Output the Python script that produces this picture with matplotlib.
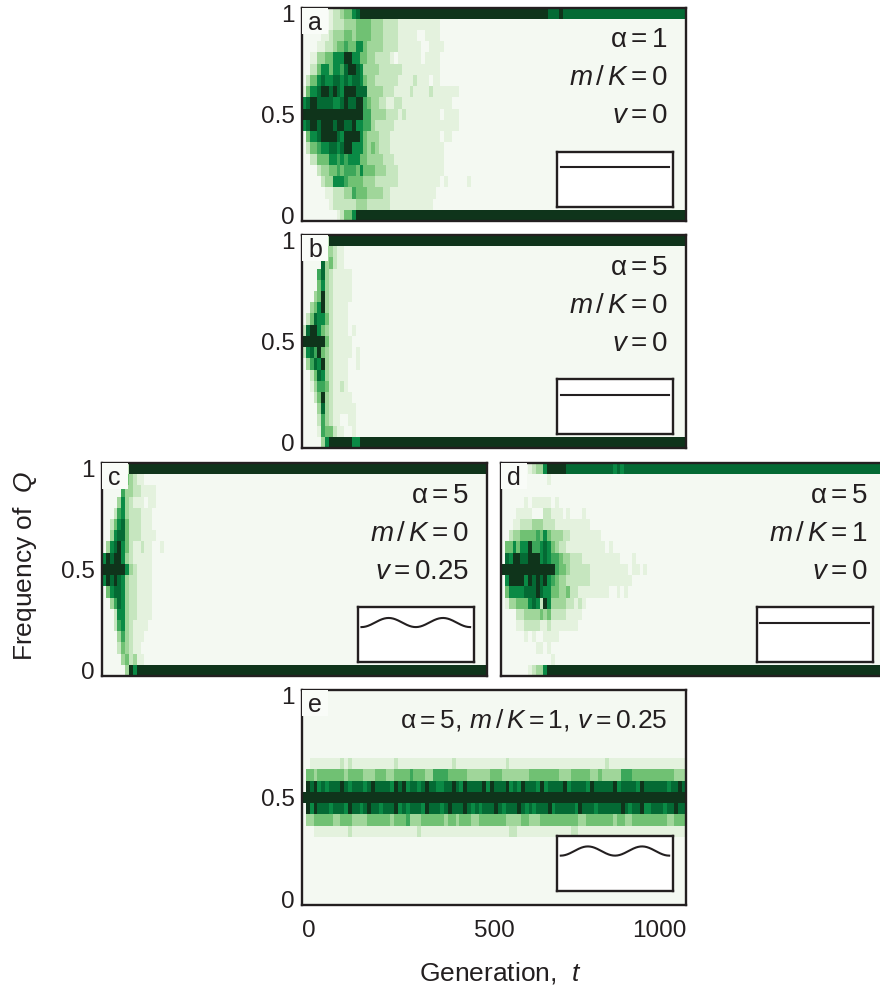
"""
Frequency of Q over generations: five simulation settings (a-e).
Each panel is a 2D histogram of runs (time bin x frequency bin),
drawn with discrete green shading levels.
"""

import numpy as np
import matplotlib
matplotlib.use('Agg')
import matplotlib.pyplot as plt
from matplotlib.colors import ListedColormap
from matplotlib.patches import Rectangle

plt.rcParams['font.family'] = ['Liberation Sans', 'DejaVu Sans']
plt.rcParams['mathtext.fontset'] = 'custom'
plt.rcParams['mathtext.rm'] = 'Liberation Sans'
plt.rcParams['mathtext.it'] = 'Liberation Sans:italic'

# ---------------- data ----------------
# shading levels: 0 = no runs ... 8 = most runs
level_colors = ['#f4f9f2', '#e4f2de', '#c6e6bf', '#a0d69a', '#70c173',
                '#3ca75a', '#0a8a45', '#046a34', '#0f341b']

gen_bin = 10          # generations per column
n_cols = 100          # 0 .. 1000 generations
n_freq = 19           # Q = 0, 1/18, ..., 1

# inner rows listed from Q = 17/18 (top) down to Q = 1/18; one digit per column
a_rows = [
    "000000012223334444333222211111111111",
    "000001123334434444333222211111001111",
    "0000112234454466433332222111111001111",
    "001133446668866443322221011111101111",
    "002246646657887633332222221111111111",
    "024467667767677643322222211112111011",
    "14667887876888777333322211112111121111111",
    "678877776678778854332211221111111111111",
    "88888888888888885533332221211111111101111",
    "67887888788778665532222211111111111111111",
    "046678888768888643332221111111111111011",
    "0244566776788666434322211111111111111",
    "0022444665656664433332221111111111111",
    "0000233445455546444333222111111111111",
    "000002336665444433322222211111111111010000010",
    "00000011222335444333322111111111111",
    "0000000122222233322222211111111111",
]
a_top = [(0, 7), (1, 1), (2, 2), (3, 1), (4, 2), (6, 1), (7, 1), (8, 49),
         (7, 3), (8, 1), (7, 32)]
a_bottom = [(0, 9), (1, 1), (2, 1), (4, 2), (6, 1), (8, 86)]

b_rows = [
    "0000063321100000",
    "0000073421100000",
    "0000573211111000",
    "0000463211111000",
    "0003483211111000",
    "0034683211110000",
    "0247664211110000",
    "2788643211110100",
    "8888884211111000",
    "2675843211111010",
    "0357683211110010",
    "0024763211110000",
    "0013554211210000",
    "0002483211111000",
    "0000373211111100",
    "0000253211001100",
    "0000154421100100",
]
b_top = [(0, 5), (1, 1), (2, 1), (8, 93)]
b_bottom = [(0, 5), (3, 1), (6, 1), (8, 6), (6, 2), (8, 85)]

c_rows = [
    "0000024321100000",
    "0000053322111100",
    "0000363211101100",
    "0002563222111000",
    "0024674222111000",
    "0036774222111100",
    "0367864211211001",
    "6878863211111000",
    "8888886321111000",
    "6878763221111000",
    "0467763221111000",
    "0035763221111000",
    "0002663221111000",
    "0002563211110000",
    "0000353211100000",
    "0000243211000000",
    "0000034231100000",
]
c_top = [(0, 5), (1, 1), (2, 1), (8, 93)]
c_bottom = [(0, 6), (3, 1), (8, 1), (6, 1), (8, 91)]

d_rows = [
    "0000000000001",
    "",
    "000000101111101",
    "0000111100022111010001",
    "00011222333222111111111",
    "00233444454643332211111111",
    "04464668556764322111111111101",
    "07688778886765543322211111111110001",
    "88888888888888544322222111111111101101",
    "0688886878786543322222211111111111",
    "046666777876644334221111111100101",
    "0133444676286333322121",
    "000022333343422221111",
    "00001122221121111111",
    "000000101001111",
    "0000000001101",
    "00000000000001",
]
d_top = [(0, 7), (1, 1), (2, 1), (3, 2), (6, 1), (8, 5), (7, 12), (6, 1),
         (7, 1), (6, 1), (7, 68)]
d_bottom = [(0, 7), (1, 1), (2, 1), (3, 2), (6, 1), (8, 88)]

e_rows = [
    "", "", "", "", "",
    # Q = 12/18
    "0011111111" "2121111111" "1111211111" "1111111112" "1111111111"
    "1112111111" "1111111111" "1111111112" "1111111111" "1111111111",
    # Q = 11/18
    "0443444444" "4344443334" "4433444454" "4433555544" "4443333334"
    "4433333334" "4444444333" "4444433433" "3335554444" "4444444333",
    # Q = 10/18
    "0878676777" "8767776787" "7776878677" "6787766778" "7687777868"
    "7778676877" "7686777786" "7777687777" "7867777687" "7777767787",
    # Q = 0.5
    "8888888888" "8888888888" "8888888888" "8888888888" "8888888888"
    "8888888888" "8888888888" "8888888888" "8888888888" "8888888888",
    # Q = 8/18
    "0868777677" "7687767877" "6777867677" "7687776787" "7787676777"
    "8767778767" "6777867777" "7687776777" "7778767786" "6777677877",
    # Q = 7/18
    "0334444433" "4443333444" "4443444533" "3444444344" "3444334444"
    "4443333443" "3344444444" "4433444444" "4344334444" "4444433444",
    # Q = 6/18
    "0001111111" "1121111111" "1111111111" "2111111111" "1111111111"
    "1111221111" "1111111111" "2211111111" "1111111111" "1111111111",
    "", "", "", "", "",
]
e_top = [(0, 100)]
e_bottom = [(0, 100)]

panel_letters = ['a', 'b', 'c', 'd', 'e']
alphas = [1, 5, 5, 5, 5]
mK = [0, 0, 0, 1, 1]
v_amp = [0, 0, 0.25, 0, 0.25]


def build_grid(rows, top, bottom):
    grid = np.zeros((n_freq, n_cols), dtype=int)
    for i, s in enumerate(rows):
        vals = [int(ch) for ch in s]
        grid[n_freq - 2 - i, :len(vals)] = vals
    for r, runs in ((n_freq - 1, top), (0, bottom)):
        col = 0
        for level, count in runs:
            grid[r, col:col + count] = level
            col += count
    return grid


grids = [build_grid(a_rows, a_top, a_bottom),
         build_grid(b_rows, b_top, b_bottom),
         build_grid(c_rows, c_top, c_bottom),
         build_grid(d_rows, d_top, d_bottom),
         build_grid(e_rows, e_top, e_bottom)]

# ---------------- figure ----------------
W, H = 880, 992
fig = plt.figure(figsize=(W / 100, H / 100), dpi=100)


def px_axes(x0, y0, w, h):
    return fig.add_axes([x0 / W, 1 - (y0 + h) / H, w / W, h / H])


axes = [px_axes(302, 7.5, 384, 213.5),
        px_axes(302, 235, 384, 213),
        px_axes(102, 463, 385, 213),
        px_axes(501, 463, 385, 213),
        px_axes(302, 690, 384, 215)]

cmap = ListedColormap(level_colors)
t_edges = np.arange(n_cols + 1) * gen_bin
q_edges = (np.arange(n_freq + 1) - 0.5) / (n_freq - 1)
edge_col = '#231f20'
fs = 17.5
fs_par = 20

for k, ax in enumerate(axes):
    ax.pcolormesh(t_edges, q_edges, grids[k], cmap=cmap, vmin=-0.5, vmax=8.5)
    ax.set_xlim(t_edges[0], t_edges[-1])
    ax.set_ylim(q_edges[0], q_edges[-1])
    for sp in ax.spines.values():
        sp.set_linewidth(1.7)
        sp.set_color(edge_col)
    ax.tick_params(length=0, labelsize=fs, pad=5, labelcolor=edge_col)
    if k == 3:
        ax.set_yticks([])
    else:
        ax.set_yticks([0, 0.5, 1])
        ax.set_yticklabels(['0', '0.5', '1'])
    if k == 4:
        ax.set_xticks([0, 500, 1000])
        ax.set_xticklabels(['0', '500', '1000'])
        ax.tick_params(axis='x', pad=11)
        for lbl, ha in zip(ax.get_xticklabels(), ['left', 'center', 'right']):
            lbl.set_ha(ha)
    else:
        ax.set_xticks([])

    # panel letter in a small pale box
    hpx = ax.get_position().height * H
    wpx = ax.get_position().width * W
    ax.add_patch(Rectangle((0, 1 - 26 / hpx), 26 / wpx, 26 / hpx,
                           transform=ax.transAxes, facecolor='#f9fcf8',
                           edgecolor='none', zorder=3))
    ax.text(6 / wpx, 1 - 22 / hpx, panel_letters[k], transform=ax.transAxes,
            fontsize=18, va='baseline', ha='left', color=edge_col, zorder=4)

    # parameter text
    if k < 4:
        lines = [r'$\mathrm{\alpha} = %g$' % alphas[k],
                 r'$m\,/\,K = %g$' % mK[k],
                 r'$v = %g$' % v_amp[k]]
        for j, s in enumerate(lines):
            ax.text(0.953, 0.846 - 0.178 * j, s, transform=ax.transAxes,
                    fontsize=fs_par, ha='right', va='center', color=edge_col)
    else:
        s = (r'$\mathrm{\alpha} = %g,\,m\,/\,K = %g,\,v = %g$'
             % (alphas[k], mK[k], v_amp[k]))
        ax.text(0.953, 0.86, s, transform=ax.transAxes,
                fontsize=19, ha='right', va='center', color=edge_col)

    # inset: environmental variation over two cycles
    ins = ax.inset_axes([0.664, 0.066, 0.302, 0.257])
    ins.set_facecolor('white')
    ins.set_zorder(5)
    for sp in ins.spines.values():
        sp.set_linewidth(1.7)
        sp.set_color(edge_col)
    ins.set_xticks([])
    ins.set_yticks([])
    tt = np.linspace(0, 2, 200)
    ins.plot(tt, 1 - v_amp[k] * np.cos(2 * np.pi * tt), color=edge_col, lw=1.5)
    ins.set_xlim(-0.07, 2.07)
    ins.set_ylim(-1.16, 1.84)

fig.text(25 / W, 1 - 566 / H, 'Frequency of  $Q$', rotation=90,
         fontsize=19, ha='center', va='center', color=edge_col)
fig.text(500 / W, 1 - 973 / H, 'Generation,  $t$',
         fontsize=19, ha='center', va='center', color=edge_col)

fig.savefig('out.png', dpi=100, facecolor='white')
plt.close(fig)
